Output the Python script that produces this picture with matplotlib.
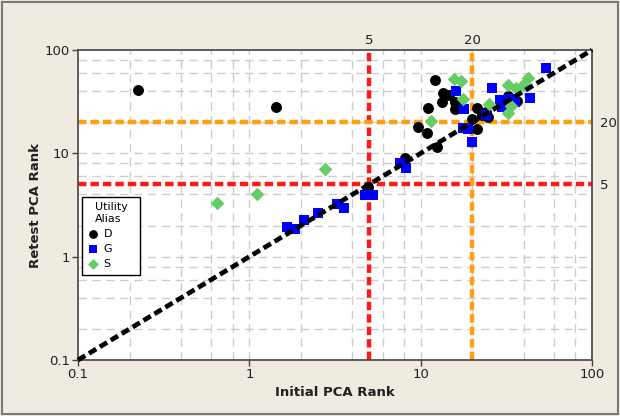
import matplotlib
matplotlib.use("Agg")
import matplotlib.pyplot as plt
from matplotlib.patches import Rectangle
from matplotlib.ticker import FixedLocator, NullLocator

# ---- data ----
d_initial = [0.224, 1.43, 4.93, 8.11, 9.66, 10.9, 12.5, 11.0, 12.1, 13.5, 14.7,
             13.3, 15.9, 15.9, 19.9, 21.3, 21.3, 22.8, 24.7, 32.4, 36.5, 24.1]
d_retest = [41.1, 28.1, 4.73, 9.02, 18.0, 15.8, 11.5, 27.5, 51.3, 38.4, 36.8,
            31.4, 31.4, 26.9, 21.5, 27.5, 17.2, 23.5, 22.5, 35.9, 32.2, 25.2]

g_initial = [1.66, 1.85, 2.09, 2.52, 3.25, 3.57, 4.74, 5.27, 7.58, 8.22, 16.1,
             17.9, 17.7, 18.9, 19.9, 24.1, 26.1, 29.1, 29.9, 35.6, 43.5, 54.0, 33.3]
g_retest = [1.94, 1.85, 2.27, 2.65, 3.24, 2.96, 3.96, 3.96, 8.07, 7.22, 40.2,
            26.9, 17.6, 17.2, 12.9, 23.5, 43.0, 32.9, 28.1, 31.4, 34.4, 67.1, 33.6]

s_initial = [0.648, 1.11, 2.77, 11.5, 15.7, 17.2, 17.7, 25.1, 32.4, 33.7, 32.4,
             36.1, 39.6, 42.4]
s_retest = [3.31, 4.05, 7.06, 20.6, 52.5, 50.2, 33.6, 30.1, 24.6, 28.8, 45.9,
            43.0, 45.9, 53.7]

groups = ["D", "G", "S"]
cutoffs = [5, 20]
cutoff_colors = ["#FF1A1A", "#FFA010"]
diag = [0.1, 100]
major_ticks = [0.1, 1, 10, 100]
major_labels = ["0.1", "1", "10", "100"]
grid_vals = [m * 10.0 ** e for e in (-1, 0, 1) for m in (2, 4, 6, 8, 10)]

plt.rcParams['font.family'] = ['DejaVu Sans']

fig = plt.figure(figsize=(6.2, 4.16), dpi=100)
fig.patch.set_facecolor("#EFEBE0")
ax = fig.add_axes([78/620, 56/416, 514/620, 310/416])
ax.set_facecolor("white")
ax.set_xscale("log")
ax.set_yscale("log")
ax.set_xlim(0.1, 100)
ax.set_ylim(0.1, 100)

# grid
for v in grid_vals:
    if 0.1 < v < 100:
        ax.axvline(v, color="#CDCDCD", lw=1, ls=(0, (6, 4)), zorder=1)
        ax.axhline(v, color="#CDCDCD", lw=1, ls=(0, (6, 4)), zorder=1)

# cutoff reference lines
for c, col in zip(cutoffs, cutoff_colors):
    ax.axvline(c, color=col, lw=3.2, ls=(0, (1.9, 0.9)), zorder=2)
    ax.axhline(c, color=col, lw=3.2, ls=(0, (1.9, 0.9)), zorder=2)

h1 = ax.scatter(d_initial, d_retest, marker="o", s=62, color="black", zorder=3, linewidths=0)
h2 = ax.scatter(g_initial, g_retest, marker="s", s=62, color="#0000FF", zorder=3, linewidths=0)
h3 = ax.scatter(s_initial, s_retest, marker="D", s=48, color="#66CC66", zorder=3, linewidths=0)

ax.plot(diag, diag, color="black", lw=3.4, ls=(0, (1.8, 0.9)), zorder=4, clip_on=False)

# axes ticks
ax.xaxis.set_major_locator(FixedLocator(major_ticks))
ax.yaxis.set_major_locator(FixedLocator(major_ticks))
ax.set_xticklabels(major_labels)
ax.set_yticklabels(major_labels)
ax.xaxis.set_minor_locator(NullLocator())
ax.yaxis.set_minor_locator(NullLocator())
ax.tick_params(axis="both", which="major", direction="out", length=4, width=1,
               color="#404040", labelsize=9.5, labelcolor="#202020", pad=2)
for sp in ax.spines.values():
    sp.set_color("#505050")
    sp.set_linewidth(1.3)

ax.set_xlabel("Initial PCA Rank", fontsize=9.5, fontweight="bold", color="#202020", labelpad=3)
ax.set_ylabel("Retest PCA Rank", fontsize=9.5, fontweight="bold", color="#202020", labelpad=2)

# secondary labels for the cutoffs
top = ax.secondary_xaxis("top")
top.set_xticks(cutoffs)
top.set_xticklabels([str(c) for c in cutoffs])
top.xaxis.set_minor_locator(NullLocator())
top.tick_params(length=0, labelsize=9.5, labelcolor="#202020", pad=2)
top.spines["top"].set_visible(False)
right = ax.secondary_yaxis("right")
right.set_yticks(cutoffs)
right.set_yticklabels([str(c) for c in cutoffs])
right.yaxis.set_minor_locator(NullLocator())
right.tick_params(length=0, labelsize=9.5, labelcolor="#202020", pad=6)
right.spines["right"].set_visible(False)

leg = ax.legend([h1, h2, h3], [g + "\u2007\u2007\u2007" for g in groups],
                title="Utility\nAlias", loc="upper left", bbox_to_anchor=(0.008, 0.526),
                borderaxespad=0, fancybox=False, framealpha=1, edgecolor="black",
                fontsize=8, title_fontsize=8, handletextpad=0.5, handlelength=1.0,
                borderpad=0.5, labelspacing=0.45, markerscale=0.8)
leg.get_frame().set_linewidth(1.0)
leg.set_zorder(5)

# outer figure border
fig.patches.append(Rectangle((2/620, 2/416), 616/620, 412/416, transform=fig.transFigure,
                             fill=False, edgecolor="#7A7A7A", lw=1.5))

fig.savefig("out.png", dpi=100, facecolor=fig.get_facecolor())
